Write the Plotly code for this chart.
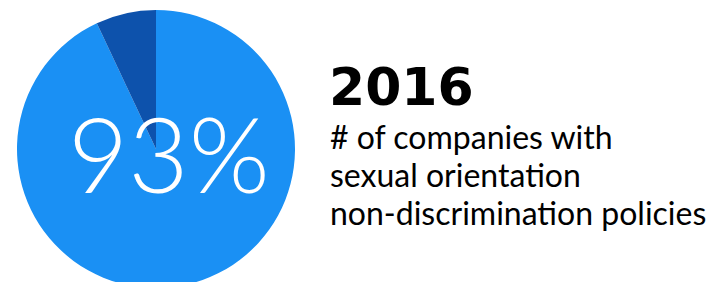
import plotly.graph_objects as go

labels = ["With policy", "Without policy"]
values = [93, 7]
colors = ["#1A90F4", "#0D52AC"]
year = "2016"
caption_lines = ["# of companies with", "sexual orientation", "non-discrimination policies"]

W, H = 717, 290
OFF = 8  # page body margin

def px_x(x):
    return (x - OFF) / W

def px_y(y):
    return 1 - (y - OFF) / H

fig = go.Figure()
fig.add_trace(go.Pie(
    labels=labels, values=values,
    marker=dict(colors=colors, line=dict(width=0)),
    sort=False, direction="clockwise", rotation=0,
    textinfo="none", hoverinfo="label+percent", showlegend=False,
    domain=dict(x=[px_x(17), px_x(295)], y=[px_y(288), px_y(10)]),
))

fig.add_annotation(
    text=f"{values[0]}%", xref="paper", yref="paper",
    x=px_x(169), y=px_y(152), xanchor="center", yanchor="middle",
    showarrow=False,
    font=dict(family="Lato", size=104, color="white", weight=300),
)
fig.add_annotation(
    text=f"<b>{year}</b>", xref="paper", yref="paper",
    x=px_x(327), y=px_y(87), xanchor="left", yanchor="middle",
    showarrow=False,
    font=dict(family="DejaVu Sans", size=52, color="black"),
)
for i, line in enumerate(caption_lines):
    fig.add_annotation(
        text=line, xref="paper", yref="paper",
        x=px_x(328), y=px_y(136 + 38 * i), xanchor="left", yanchor="middle", align="left",
        showarrow=False,
        font=dict(family="Lato", size=32, color="black"),
    )

fig.update_layout(
    width=W, height=H, margin=dict(l=0, r=0, t=0, b=0),
    paper_bgcolor="white", plot_bgcolor="white",
)
fig.write_html("out.html")
